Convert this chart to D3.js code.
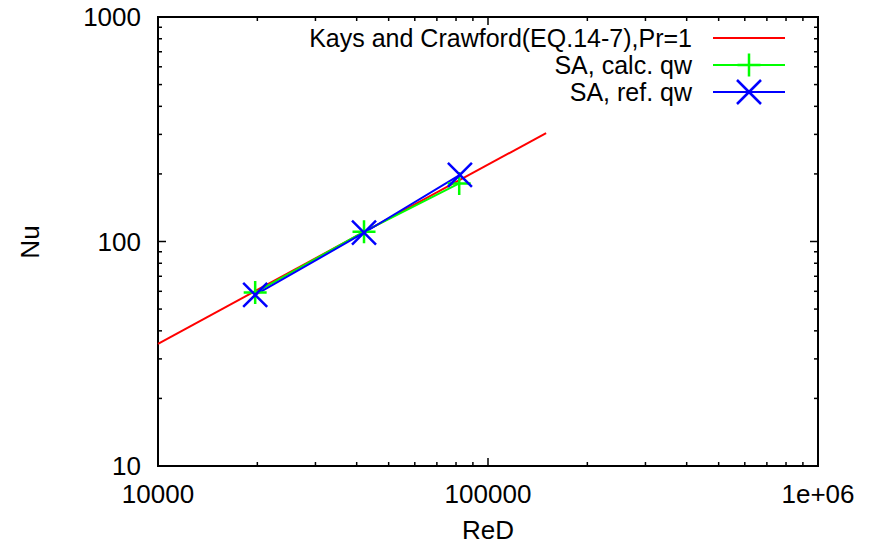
<!DOCTYPE html>
<html>
<head>
<meta charset="utf-8">
<script src="https://cdn.jsdelivr.net/npm/d3@7"></script>
<style>
  body { margin: 0; background: #fff; }
  text { font-family: "Liberation Sans", Arial, sans-serif; fill: #000; }
</style>
</head>
<body>
<div id="chart"></div>
<script>
// Data
var fitRe = [10000, 150000];
var fitNu = [35.0, 304];

var calcRe = [19700, 42100, 81800];
var calcNu = [59.2, 110.6, 181.5];

var refRe = [19700, 42100, 82200];
var refNu = [57.8, 109.4, 198];

var xTickLabels = ["10000", "100000", "1e+06"];
var yTickLabels = ["10", "100", "1000"];

var legendLabels = ["Kays and Crawford(EQ.14-7),Pr=1", "SA, calc. qw", "SA, ref. qw"];
var colors = ["#ff0000", "#00ff00", "#0000ff"];

// svg params
var svgWidth = 874;
var svgHeight = 545;
var margin = { top: 17, right: 56, bottom: 79, left: 158 };
var width = svgWidth - margin.left - margin.right;
var height = svgHeight - margin.top - margin.bottom;
var fontSize = "26px";

var svg = d3.select("#chart").append("svg")
    .attr("width", svgWidth)
    .attr("height", svgHeight);

var chartGroup = svg.append("g")
    .attr("transform", `translate(${margin.left}, ${margin.top})`);

var x = d3.scaleLog().domain([1e4, 1e6]).range([0, width]);
var y = d3.scaleLog().domain([10, 1000]).range([height, 0]);

// minor + major tick values
var xTicks = x.ticks();
var yTicks = y.ticks();

function isMajor(v) {
    var l = Math.log10(v);
    return Math.abs(l - Math.round(l)) < 1e-9;
}

// inward ticks on all four sides
var tickGroup = chartGroup.append("g").attr("stroke", "#000").attr("stroke-width", 1.5);
xTicks.forEach(function(v) {
    var len = isMajor(v) ? 8 : 4;
    tickGroup.append("line").attr("x1", x(v)).attr("x2", x(v)).attr("y1", height).attr("y2", height - len);
    tickGroup.append("line").attr("x1", x(v)).attr("x2", x(v)).attr("y1", 0).attr("y2", len);
});
yTicks.forEach(function(v) {
    var len = isMajor(v) ? 8 : 4;
    tickGroup.append("line").attr("y1", y(v)).attr("y2", y(v)).attr("x1", 0).attr("x2", len);
    tickGroup.append("line").attr("y1", y(v)).attr("y2", y(v)).attr("x1", width).attr("x2", width - len);
});

// frame
chartGroup.append("rect")
    .attr("width", width)
    .attr("height", height)
    .attr("fill", "none")
    .attr("stroke", "#000")
    .attr("stroke-width", 2);

// tick labels
var majorX = xTicks.filter(isMajor);
chartGroup.selectAll(".xlab")
    .data(majorX)
    .enter()
    .append("text")
    .attr("x", d => x(d))
    .attr("y", height + 37)
    .attr("text-anchor", "middle")
    .style("font-size", fontSize)
    .text((d, i) => xTickLabels[i]);

var majorY = yTicks.filter(isMajor);
chartGroup.selectAll(".ylab")
    .data(majorY)
    .enter()
    .append("text")
    .attr("x", -17)
    .attr("y", d => y(d) + 9)
    .attr("text-anchor", "end")
    .style("font-size", fontSize)
    .text((d, i) => yTickLabels[i]);

// axis titles
svg.append("text")
    .attr("x", margin.left + width / 2)
    .attr("y", 539)
    .attr("text-anchor", "middle")
    .style("font-size", fontSize)
    .text("ReD");

svg.append("text")
    .attr("transform", "translate(39, 242) rotate(-90)")
    .attr("text-anchor", "middle")
    .style("font-size", fontSize)
    .text("Nu");

var line = d3.line()
    .x(d => x(d[0]))
    .y(d => y(d[1]));

function zip(a, b) { return a.map((v, i) => [v, b[i]]); }

var series = [zip(fitRe, fitNu), zip(calcRe, calcNu), zip(refRe, refNu)];

var plot = chartGroup.append("g");
series.forEach(function(s, i) {
    plot.append("path")
        .datum(s)
        .attr("d", line)
        .attr("fill", "none")
        .attr("stroke", colors[i])
        .attr("stroke-width", 2);
});

function plusMarker(g, cx, cy, c) {
    var r = 11.5;
    g.append("path")
        .attr("d", `M${cx - r},${cy}H${cx + r}M${cx},${cy - r}V${cy + r}`)
        .attr("stroke", c).attr("stroke-width", 2.5).attr("fill", "none");
}
function crossMarker(g, cx, cy, c) {
    var r = 12;
    g.append("path")
        .attr("d", `M${cx - r},${cy - r}L${cx + r},${cy + r}M${cx - r},${cy + r}L${cx + r},${cy - r}`)
        .attr("stroke", c).attr("stroke-width", 2.5).attr("fill", "none");
}

series[1].forEach(d => plusMarker(plot, x(d[0]), y(d[1]), colors[1]));
series[2].forEach(d => crossMarker(plot, x(d[0]), y(d[1]), colors[2]));

// legend
var legend = svg.append("g");
legendLabels.forEach(function(lab, i) {
    var ly = 38 + i * 27;
    legend.append("text")
        .attr("x", 692)
        .attr("y", ly + 9)
        .attr("text-anchor", "end")
        .style("font-size", "25px")
        .text(lab);
    legend.append("line")
        .attr("x1", 713).attr("x2", 785)
        .attr("y1", ly).attr("y2", ly)
        .attr("stroke", colors[i])
        .attr("stroke-width", 2);
    if (i === 1) plusMarker(legend, 749, ly, colors[i]);
    if (i === 2) crossMarker(legend, 749, ly, colors[i]);
});
</script>
</body>
</html>
